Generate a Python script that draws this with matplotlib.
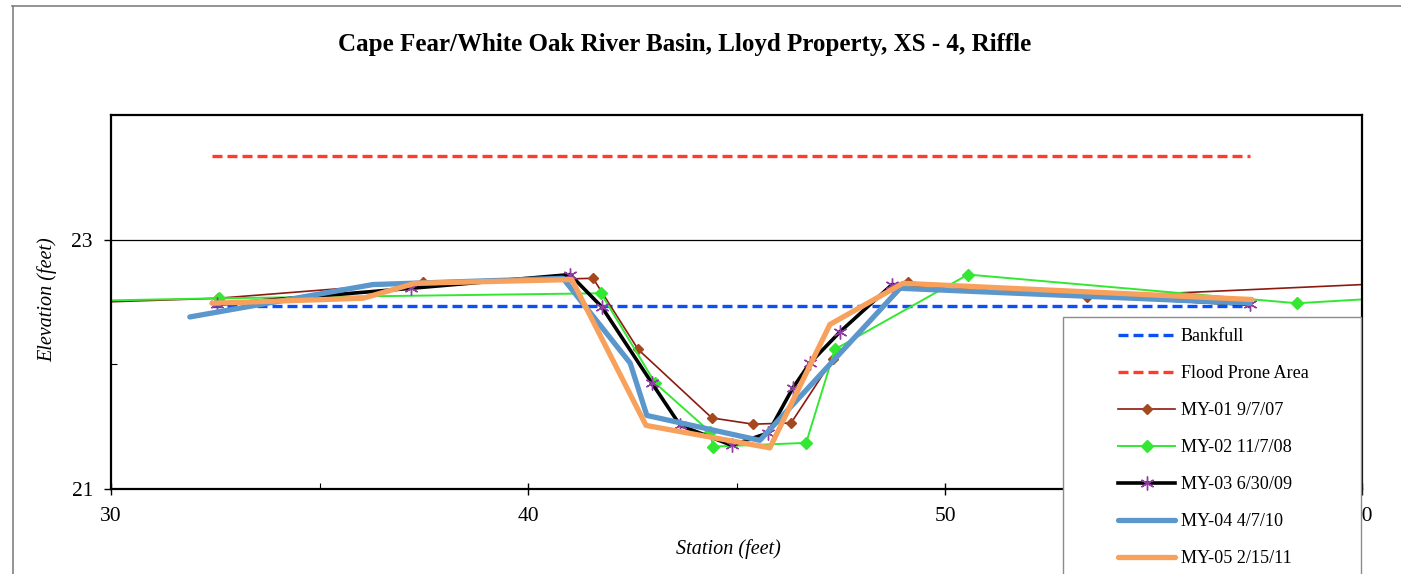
import matplotlib
matplotlib.use("Agg")
import matplotlib.pyplot as plt
from matplotlib.patches import Rectangle
from matplotlib.lines import Line2D

plt.rcParams['font.family'] = ['Liberation Serif', 'DejaVu Serif']

# bankfull / flood prone levels
bank_x = [32.42, 57.31]
bank_y = [22.47, 22.47]
flood_x = [32.42, 57.31]
flood_y = [23.67, 23.67]

# survey cross-sections (station, elevation)
my01_x = [28.0, 32.57, 37.48, 41.56, 42.64, 44.41, 45.40, 46.31, 47.31, 49.11, 53.41, 62.0]
my01_y = [22.48, 22.53, 22.66, 22.69, 22.12, 21.57, 21.52, 21.53, 22.04, 22.66, 22.54, 22.67]

my02_x = [28.0, 32.59, 41.75, 43.05, 44.36, 44.44, 46.67, 47.36, 50.55, 58.44, 62.0]
my02_y = [22.50, 22.53, 22.57, 21.85, 21.46, 21.34, 21.37, 22.12, 22.72, 22.49, 22.56]

my03_x = [32.54, 37.20, 41.01, 41.77, 42.97, 43.65, 44.89, 45.76, 46.35, 46.76, 47.48, 48.73, 57.31]
my03_y = [22.48, 22.61, 22.72, 22.46, 21.85, 21.51, 21.35, 21.45, 21.81, 22.01, 22.26, 22.64, 22.48]

my04_x = [31.89, 36.28, 40.84, 42.45, 42.85, 45.56, 48.92, 57.31]
my04_y = [22.38, 22.64, 22.69, 22.01, 21.59, 21.39, 22.61, 22.49]

my05_x = [32.42, 36.04, 37.29, 41.05, 42.83, 45.80, 47.24, 48.99, 57.36]
my05_y = [22.49, 22.53, 22.65, 22.68, 21.51, 21.33, 22.32, 22.65, 22.52]

W, H = 1401, 574
fig = plt.figure(figsize=(W / 100, H / 100), dpi=100)
ax = fig.add_axes([111 / W, 1 - 489 / H, (1362 - 111) / W, (489 - 115) / H])

ax.plot(bank_x, bank_y, color='#0A50F5', lw=2.4, dashes=(3, 1.5), label='Bankfull')
ax.plot(flood_x, flood_y, color='#FF3B2A', lw=2.4, dashes=(3, 1.5), label='Flood Prone Area')
ax.plot(my01_x, my01_y, color='#8B1A10', lw=1.2, marker='D', ms=5.5,
        mfc='#A5481E', mec='#A5481E', label='MY-01 9/7/07')
ax.plot(my02_x, my02_y, color='#33E833', lw=1.4, marker='D', ms=6.5,
        mfc='#33E833', mec='#33E833', label='MY-02 11/7/08')
ax.plot(my03_x, my03_y, color='black', lw=2.6, marker=(6, 2, 0), ms=10,
        mec='#8E3E9E', mew=1.0, label='MY-03 6/30/09')
ax.plot(my04_x, my04_y, color='#5B97CB', lw=3.8, solid_capstyle='round', label='MY-04 4/7/10')
ax.plot(my05_x, my05_y, color='#F8A15C', lw=3.8, solid_capstyle='round', label='MY-05 2/15/11')

ax.set_xlim(30, 60)
ax.set_ylim(21, 24)
ax.set_xticks([30, 40, 50, 60])
ax.set_xticks([35, 45, 55], minor=True)
ax.set_yticks([21, 23])
ax.set_yticks([22], minor=True)
ax.grid(axis='y', which='major', color='black', lw=0.9)
ax.set_axisbelow(True)
ax.tick_params(axis='x', which='major', direction='inout', length=8, width=1, labelsize=15.5, pad=9)
ax.tick_params(axis='x', which='minor', direction='in', length=4, width=0.8)
ax.tick_params(axis='y', which='major', direction='out', length=5, width=1, labelsize=15.5, pad=8)
ax.tick_params(axis='y', which='minor', direction='in', length=4, width=0.8)
for s in ax.spines.values():
    s.set_linewidth(1.6)

fig.text(685 / W, 1 - 45 / H, 'Cape Fear/White Oak River Basin, Lloyd Property, XS - 4, Riffle',
         ha='center', va='center', fontsize=18, fontweight='bold')
fig.text(728 / W, 1 - 549 / H, 'Station (feet)', ha='center', va='center',
         fontsize=14.5, style='italic')
fig.text(47 / W, 1 - 300 / H, 'Elevation (feet)', ha='center', va='center',
         fontsize=14.5, style='italic', rotation=90)

# outer chart border
fig.add_artist(Line2D([12.5 / W, 12.5 / W], [0, 1 - 5.5 / H], color='#808080', lw=1.2))
fig.add_artist(Line2D([12 / W, 1], [1 - 5.5 / H, 1 - 5.5 / H], color='#808080', lw=1.2))

# legend box
fig.add_artist(Rectangle((1063 / W, -0.1), (1361 - 1063) / W, (1 - 317 / H) + 0.1,
                         transform=fig.transFigure, facecolor='white',
                         edgecolor='#8c8c8c', lw=1.0, zorder=4))
handles, labels = ax.get_legend_handles_labels()
leg = fig.legend(handles, labels, loc='upper left', bbox_to_anchor=(1118 / W, 1 - 328 / H),
                 frameon=False, fontsize=13.1, borderpad=0, borderaxespad=0,
                 handlelength=3.15, handletextpad=0.3, labelspacing=1.1)
leg.set_zorder(5)

fig.savefig('out.png', dpi=100)
